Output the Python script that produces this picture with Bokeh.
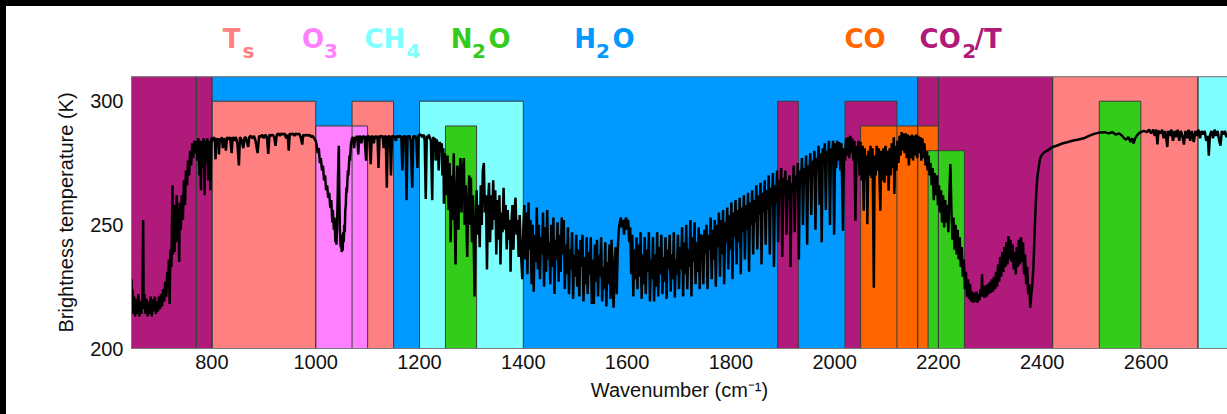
from bokeh.plotting import figure
from bokeh.models import ColumnDataSource, Range1d, FixedTicker, Span, Spacer
from bokeh.layouts import column, row
from bokeh.core.properties import value
from bokeh.embed import file_html
from bokeh.resources import INLINE

# ---------------- data ----------------
# absorption bands: drawn in this order
band_left = [640, 770, 800, 2160, 2200, 2420, 2700, 800, 1070, 1200, 1890, 2020, 2510, 1000, 1250, 2050, 2180]
band_right = [770, 800, 2160, 2200, 2420, 2700, 2800, 1000, 1150, 1400, 1930, 2120, 2590, 1100, 1310, 2200, 2250]
band_top = [310, 310, 310, 310, 310, 310, 310, 300, 300, 300, 300, 300, 300, 290, 290, 290, 280]
band_gas = ["CO2/T", "CO2/T", "H2O", "CO2/T", "CO2/T", "Ts", "CH4", "Ts", "Ts", "CH4",
            "CO2/T", "CO2/T", "N2O", "O3", "N2O", "CO", "N2O"]

gas_colors = {"Ts": "#FF8080", "O3": "#FF80FF", "CH4": "#80FFFF", "N2O": "#33CC1A",
              "H2O": "#0099FF", "CO": "#FF6600", "CO2/T": "#B01A7A"}

x_ticks = [800, 1000, 1200, 1400, 1600, 1800, 2000, 2200, 2400, 2600]
y_ticks = [200, 250, 300]

# spectrum: (wavenumber cm-1, brightness temperature K)
co2_15um_band = [(645,228),(646,217),(647,224),(648,214),(650,221),(652,213),(654,220),(656,214),(658,222),(660,213),(662,219),(664,214),(666,221),(667.5,252),(668.5,216),(670,222),(672,214),(674,220),(676,213),(678,219),(680,214),(682,221),(684,213),(686,220),(688,215),(690,221),(692,214),(694,219),(696,215),(698,221),(700,216),(702,222),(704,217),(706,224),(708,219),(710,227),(712,221),(714,231),(716,226),(717,236),(718.5,218),(720,240),(722,233),(724,266),(725,238),(726,252),(728,239),(729,258),(731,243),(732,262),(734,247),(735,256),(737,235),(738,259),(740,248),(742,262),(744,252),(746,268),(748,258),(750,272),(752,266),(754,276),(756,270),(758,280),(760,274),(762,283),(764,277),(766,284),(768,279),(770,284),(772,276),(774,285),(776,270),(777,284),(779,264),(780,284),(782,273),(784,285),(786,262),(787,284),(789,275),(791,285),(793,268),(795,284),(797,264),(799,285)]
window_800_1000 = [(800,285),(802,284),(804,285.5),(806,283),(807,276.5),(808,285),(810,284),(812,285),(813.5,278.5),(815,285),(817,283.5),(819,285.5),(821,281),(823,285),(825,284),(827,280),(829,285.5),(832,284.5),(835,285.5),(838,279),(840,285.5),(843,284),(846,285.5),(849,283),(852,274),(854,285.5),(857,284.5),(860.5,281),(863,285.5),(866,285),(868,283),(870,281.5),(872,285.5),(875,286),(878,285),(881,286),(884,284),(888,279),(891,286),(894,285.5),(897,286.5),(900,285),(903,286.5),(906,285.5),(908.5,278.7),(911,286.5),(914,286),(917,286.5),(920,285.5),(922.5,282),(925,286.5),(928,287),(931,286),(934,287),(937,286.5),(940,287),(943,285),(946,286.5),(948,280),(950,287),(953,286.5),(956,287),(959,286),(962,287),(965,286.5),(968,287),(971,285.5),(974,282.5),(976,286.5),(979,286),(982,286.5),(985,286),(988,286.5),(991,285.5),(994,286),(997,285),(1000,284)]
o3_band = [(1002,282),(1004,279),(1006,281),(1008,275),(1010,277),(1012,272),(1014,274),(1016,268),(1018,270),(1020,264),(1022,266),(1024,261),(1026,263),(1028,257),(1030,260),(1032,251),(1033,256),(1035,248),(1036,253),(1038,243),(1039,248),(1040,242),(1041,250),(1042,258),(1043,270),(1044.5,282),(1045.5,262),(1046.5,248),(1048,241),(1049,246),(1050,239),(1051,243),(1052,239.5),(1053,247),(1054,243),(1055,250),(1056,247),(1057,256),(1058,258),(1059,265),(1060,263),(1062,272),(1063,270),(1065,278),(1066,276),(1068,283),(1070,285)]
window_1070_1250 = [(1072,285.5),(1074,281),(1076,285.5),(1078,285),(1080,286),(1082,278.5),(1084,286),(1086,285.5),(1088,283),(1090,286),(1092,285),(1094,286),(1097,276),(1099,286),(1101,285.5),(1103,286),(1106,274.5),(1108,286),(1110,285.5),(1112,283),(1114,286),(1117,285),(1119,286),(1121,273),(1123,286),(1126,285.5),(1129,286),(1131,281),(1133,286),(1135,285.5),(1137,265),(1139,286),(1141,285.5),(1143,286),(1145,270),(1147,286),(1150,285.5),(1152,286),(1154,284),(1157,286),(1160,285.5),(1163,286),(1165,285),(1167,272),(1169,286),(1171,285.5),(1173,286),(1175,260),(1177,286),(1179,285.5),(1181,286),(1183,284),(1186,265),(1188,286),(1190,285.5),(1192,286),(1194,284),(1196,273),(1198,286),(1200,286.5),(1202,286.5),(1205,285.5),(1208,286.5),(1210,284),(1212,260.5),(1214,286),(1216,285),(1218,286.5),(1220,285),(1222,284),(1224.5,260),(1226,285.5),(1228,284.5),(1230,285),(1231,276),(1233,284.5),(1235,283),(1237,272),(1239,283.5),(1241,281),(1243,283),(1244,270),(1246,281),(1247,258.5),(1249,279)]
h2o_wing_1250_1400 = [(1250,270),(1252,262),(1254,278),(1256,256),(1258,275),(1260,243),(1262,270),(1264,252),(1266,279),(1268,250),(1269.5,234),(1271,262),(1273,274),(1275,248),(1277,268),(1279,277),(1281,255),(1283,272),(1285.5,277),(1287,250),(1289,266),(1291,245),(1292,237),(1294,260),(1296,270),(1298,250),(1299,269),(1301,243),(1303,262),(1305,236),(1306,221),(1308,250),(1310,264),(1312,246),(1314,258),(1316,241),(1318,266),(1320,250),(1322,272),(1324,275),(1326,255),(1328,262),(1330,232),(1332,258),(1334,267),(1336,243),(1338,262),(1340,248),(1342,268),(1344,252),(1346,264),(1348,238),(1350,260),(1352,244),(1354,262),(1356,234),(1358,255),(1360,247),(1362,265),(1364,248),(1366,258),(1368,240),(1370,256),(1372,244),(1374,252),(1375.5,231),(1377,250),(1379,258),(1381,240),(1383,255),(1385,261),(1387,246),(1389,252),(1391,237),(1393,254),(1395,241),(1398,228),(1400,248)]
h2o_core_1400_1745 = [(1402,258),(1404,236),(1406,255),(1408,230),(1410,259),(1412,240),(1414,252),(1416,226),(1418,250),(1420,223),(1422,246),(1424,235),(1426,257),(1428,232),(1430,250),(1432,228),(1434,245),(1436,238),(1438,255),(1440,225),(1442,249),(1444,231),(1446,256),(1448,236),(1450,243),(1452,226),(1454,250),(1456,233),(1458,253),(1460,222),(1462,244),(1464,236),(1466,251),(1468,227),(1470,246),(1472,231),(1474,253),(1476,238),(1478,252),(1480,224),(1482,242),(1484,230),(1486,249),(1488,222),(1490,240),(1492,232),(1494,247),(1496,220),(1498,238),(1500,229),(1502,246),(1504,225),(1506,240),(1508,221),(1510,244),(1512,233),(1514,246),(1516,219),(1518,237),(1520,226),(1522,245),(1524,222),(1526,239),(1528,230),(1530,245),(1532,218),(1534,236),(1536,218),(1538,242),(1540,227),(1542,244),(1544,221),(1546,238),(1548,229),(1550,245),(1552,219),(1554,233),(1556,224),(1558,243),(1560,217),(1562,235),(1564,226),(1566,242),(1568,220),(1570,244),(1572,228),(1574,216.5),(1576,236),(1578,241),(1580,222),(1582,240),(1584,248),(1586,251),(1588,253),(1590,249),(1592,252),(1594,246),(1596,251),(1598,253),(1600,248),(1602,252),(1604,243),(1606,249),(1608,230),(1610,246),(1612,221),(1614,240),(1616,228),(1618,245),(1620,224),(1622,242),(1624,229),(1626,247),(1628,220),(1630,238),(1632,226),(1634,245),(1636,222),(1638,240),(1640,231),(1642,247),(1644,219),(1646,236),(1648,228),(1650,245),(1652,219),(1654,238),(1656,225),(1658,247),(1660,221),(1662,241),(1664,230),(1666,246),(1668,222),(1670,237),(1672,227),(1674,245),(1676,220),(1678,240),(1680,232),(1682,246),(1684,223),(1686,238),(1688,228),(1690,247),(1692,220.5),(1694,236),(1696,230),(1698,246),(1700,224),(1702,241),(1704,232),(1706,249),(1708,221),(1710,243),(1712,230),(1714,250),(1716,224),(1718,240),(1720,233),(1722,252),(1724,221),(1726,245),(1728,235),(1730,251),(1732,226),(1734,243),(1736,231),(1738,249),(1740,224),(1742,246)]
h2o_wing_1745_2000 = [(1745,245),(1747,226),(1749,248),(1751,238),(1753,250),(1755,224),(1757,246),(1759,240),(1761,253),(1763,228),(1765,248),(1767,236),(1769,252),(1771,225),(1773,250),(1775,241),(1777,255),(1779,229),(1781,252),(1783,238),(1785,256),(1787,226),(1789,251),(1791,243),(1793,257),(1795,232),(1797,254),(1799,240),(1801,259),(1803,228),(1805,255),(1807,245),(1809,260),(1811,234),(1813,256),(1815,243),(1817,261),(1819,230),(1821,257),(1823,247),(1825,262),(1827,236),(1829,258),(1831,248),(1833,263),(1835,231),(1837,259),(1839,250),(1841,264),(1843,238),(1845,260),(1847,251),(1849,266),(1851,240),(1853,262),(1855,254),(1857,267),(1859,234),(1861,263),(1863,255),(1865,268),(1867,242),(1869,264),(1871,256),(1873,270),(1875,238),(1877,265),(1879,258),(1881,271),(1883,233),(1885,266),(1887,259),(1889,272),(1891,243),(1893,268),(1895,262),(1897,273),(1899,237),(1901,269),(1903,262),(1905,272),(1907,246),(1909,268),(1911,260),(1913,270),(1915,233),(1917,267),(1919,263),(1921,274),(1923,247),(1925,270),(1927,265),(1929,275),(1931,236),(1933,272),(1935,266),(1937,277),(1939,250),(1941,273),(1943,267),(1945,278),(1947,242),(1949,274),(1951,269),(1953,279),(1955,254),(1957,276),(1959,270),(1961,280),(1963,248),(1965,277),(1967,272),(1969,282),(1971,258),(1973,279),(1975,243),(1977,281),(1979,274),(1981,283),(1983,256),(1985,280),(1987,276),(1989,284),(1991,250),(1993,281),(1995,277),(1997,284),(1999,246)]
co_band_2000_2260 = [(2001,283),(2003,273),(2005,284),(2007,276),(2009,283.5),(2011,272),(2013,283),(2016,247.6),(2018,281),(2020,276),(2022,285),(2024,278),(2026,285.5),(2028,277),(2030,286),(2032,279),(2034,285),(2036,276),(2038,284),(2040,251.7),(2042,282),(2044,275),(2046,284),(2048,270),(2050,283.5),(2052,268),(2054,282),(2056,255.7),(2058,281),(2060,268),(2062,278),(2063,250.3),(2065,280),(2067,270),(2069,282),(2071,269),(2073,281),(2075.5,224.6),(2077,278),(2079,270),(2081,282),(2083,272),(2085,281),(2088,255.7),(2090,280),(2092,268),(2094,281),(2096,267),(2098,282),(2100,270),(2102,280),(2104,263.8),(2106,281),(2108,270),(2110,283),(2112,273),(2114,285.4),(2115,262.5),(2117,282),(2119,272),(2121,284),(2123,275),(2125,286),(2127,278),(2129,287.5),(2131,280),(2133,287),(2135,279),(2137,287),(2139,277),(2141,286.5),(2143,274),(2145,286),(2147,277),(2149,286.5),(2151,276),(2153,286),(2155,278),(2157,286.5),(2159,277),(2161,286),(2163,279),(2165,285.5),(2167,276),(2169,285),(2171,277),(2173,283),(2175,274),(2177,280),(2179,272),(2181,278),(2183,270),(2185,275),(2187,266),(2189,273),(2191,260),(2193,271),(2195,262),(2197,270),(2199,258),(2201,266),(2203,255),(2205,264),(2207,251),(2209,262),(2211,249),(2213,260),(2215,251),(2217,258),(2219,247),(2221,262),(2223,274.6),(2225,256),(2227,244),(2229,253),(2231,240),(2233,250),(2235,238),(2237,248),(2239,236),(2241,245),(2243,233),(2245,241),(2247,229),(2249,236),(2251,224),(2253,231),(2255,221),(2257,228),(2259,220),(2261,226)]
co2_43um_band = [(2263,219),(2265,223),(2267,218.5),(2269,222.5),(2271,219),(2273,223),(2275,218.5),(2277,222),(2279,219.5),(2281,224),(2283,221),(2284,230),(2285,221),(2287,225),(2289,220.5),(2291,225.5),(2293,221),(2295,226),(2297,222),(2299,227),(2301,222.5),(2303,228),(2305,223),(2307,229),(2309,224),(2311,231),(2313,225),(2315,234),(2317,227),(2319,237),(2321,229),(2323,239),(2325,231),(2327,241),(2329,233),(2331,243),(2333,234),(2335,245.5),(2337,236),(2339,244),(2341,235),(2343,242),(2345,232),(2347,239),(2349,230),(2351,241),(2353,233),(2355,244),(2357,234),(2359,245),(2361,235),(2363,243),(2365,230),(2367,238),(2369,226),(2371,233),(2373,222),(2375,226),(2377,216.5),(2379,222),(2381,226),(2383,233),(2385,245),(2387,256),(2389,265),(2391,270),(2393,273),(2396,277),(2400,278.5),(2405,279.5),(2410,280),(2416,281),(2422,281.6),(2430,282.2),(2440,283),(2448,283.4),(2458,284),(2470,284.5),(2480,285),(2490,286),(2500,286.8),(2512,287.4)]
window_2512_2757 = [(2520,287.5),(2528,287),(2535,287.5),(2542,286.5),(2548,287),(2554,286),(2558,285),(2562,284.5),(2566,285.5),(2570,283.5),(2573,285),(2576,283),(2579,285),(2582,286),(2586,287),(2590,287.5),(2596,288),(2602,287.5),(2606,288.5),(2610,287),(2614,288.5),(2617,286),(2620,288.5),(2622,282.5),(2624,288),(2628,287),(2631,288.5),(2634,285),(2637,288),(2641,281.5),(2643,288),(2646,286),(2649,288.5),(2652,284),(2655,288),(2658,285.5),(2661,288.5),(2664,284),(2667,288),(2670,286),(2673,282.5),(2676,288),(2679,285),(2682,288.5),(2685,284),(2688,288),(2692,283.5),(2695,288),(2698,286),(2701,288.5),(2704,285),(2707,288),(2710,286.5),(2713,288),(2716,284),(2719,286),(2721,278),(2723,286),(2726,288),(2729,285),(2732,288.5),(2735,286),(2738,288),(2741,284),(2743.5,282),(2746,288),(2749,286.5),(2752,288),(2755,285.5),(2757,287)]

# band names written above the plot (main text / subscript pieces)
title_parts = ["T", "s", "O", "3", "CH", "4", "N", "2", "O", "H", "2", "O", "CO", "CO", "2", "/T"]
title_is_sub = [False, True, False, True, False, True, False, True, False, False, True, False, False, False, True, False]
title_gas = ["Ts", "Ts", "O3", "O3", "CH4", "CH4", "N2O", "N2O", "N2O", "H2O", "H2O", "H2O", "CO", "CO2/T", "CO2/T", "CO2/T"]

# ---------------- layout ----------------
title_x = [820.6, 859, 973.4, 1016, 1094, 1175, 1260, 1301, 1333, 1498, 1540, 1572, 2019, 2163.6, 2246, 2269.6]

segments = [co2_15um_band, window_800_1000, o3_band, window_1070_1250, h2o_wing_1250_1400,
            h2o_core_1400_1745, h2o_wing_1745_2000, co_band_2000_2260, co2_43um_band, window_2512_2757]
wn = [pt[0] for seg in segments for pt in seg]
bt = [pt[1] for seg in segments for pt in seg]

BORDER = 6
W = 1227 - BORDER
LEFT = 125
TITLE_H = 70
XR = (645, 2757)

# title strip above the plot
t = figure(width=W, height=TITLE_H, output_backend="svg", toolbar_location=None,
           x_range=Range1d(*XR), y_range=Range1d(0, TITLE_H),
           x_axis_type=None, y_axis_type=None,
           min_border_left=LEFT, min_border_right=0, min_border_top=0, min_border_bottom=0)
t.outline_line_color = None
t.xgrid.visible = False
t.ygrid.visible = False
t.background_fill_color = "white"
t.border_fill_color = "white"
tsrc = ColumnDataSource(dict(
    x=title_x, text=title_parts,
    y=[25.2 if s else 37.3 for s in title_is_sub],
    size=["20px" if s else "26px" for s in title_is_sub],
    color=[gas_colors[g] for g in title_gas]))
t.text(x="x", y="y", text="text", source=tsrc, text_color="color", text_font_size="size",
       text_font=value("DejaVu Sans"), text_font_style="bold",
       text_baseline="alphabetic", text_align="left")

# main plot
p = figure(width=W, height=414 - BORDER - TITLE_H, output_backend="svg", toolbar_location=None,
           x_range=Range1d(*XR), y_range=Range1d(200, 310),
           min_border_left=LEFT, min_border_right=0, min_border_top=0, min_border_bottom=66)
p.background_fill_color = "white"
p.border_fill_color = "white"
p.outline_line_color = None
p.xgrid.visible = False
p.ygrid.visible = False

bands = ColumnDataSource(dict(left=band_left, right=band_right, top=band_top,
                              bottom=[200] * len(band_left),
                              color=[gas_colors[g] for g in band_gas]))
p.quad(left="left", right="right", top="top", bottom="bottom", source=bands,
       fill_color="color", line_color=None)
p.quad(left="left", right="right", top="top", bottom="bottom", source=bands,
       fill_color=None, line_color="#3c3c3c", line_width=1)

p.line(wn, bt, line_color="black", line_width=2.5)

p.add_layout(Span(location=310, dimension="width", line_color="#7a7a7a", line_width=1.5))

for ax in (p.xaxis, p.yaxis):
    ax.axis_line_color = "#7a7a7a"
    ax.major_tick_line_color = None
    ax.minor_tick_line_color = None
    ax.major_tick_out = 0
    ax.major_tick_in = 0
    ax.major_label_text_font = "Liberation Sans"
    ax.major_label_text_font_size = "20px"
    ax.major_label_text_color = "#111111"
    ax.axis_label_text_font = "Liberation Sans"
    ax.axis_label_text_font_size = "20px"
    ax.axis_label_text_font_style = "normal"
    ax.axis_label_text_color = "#111111"

p.xaxis.ticker = FixedTicker(ticks=x_ticks)
p.yaxis.ticker = FixedTicker(ticks=y_ticks)
p.xaxis.major_label_standoff = 6
p.yaxis.major_label_standoff = 8
p.xaxis.axis_label = "Wavenumber (cm\u207b\u00b9)"
p.yaxis.axis_label = "Brightness temperature (K)"
p.xaxis.axis_label_standoff = 7
p.yaxis.axis_label_standoff = 10

black = {"background-color": "black"}
layout = column(Spacer(width=1227, height=BORDER, styles=black),
                row(Spacer(width=BORDER, height=414 - BORDER, styles=black),
                    column(t, p)))

open("out.html", "w").write(file_html(layout, INLINE))
